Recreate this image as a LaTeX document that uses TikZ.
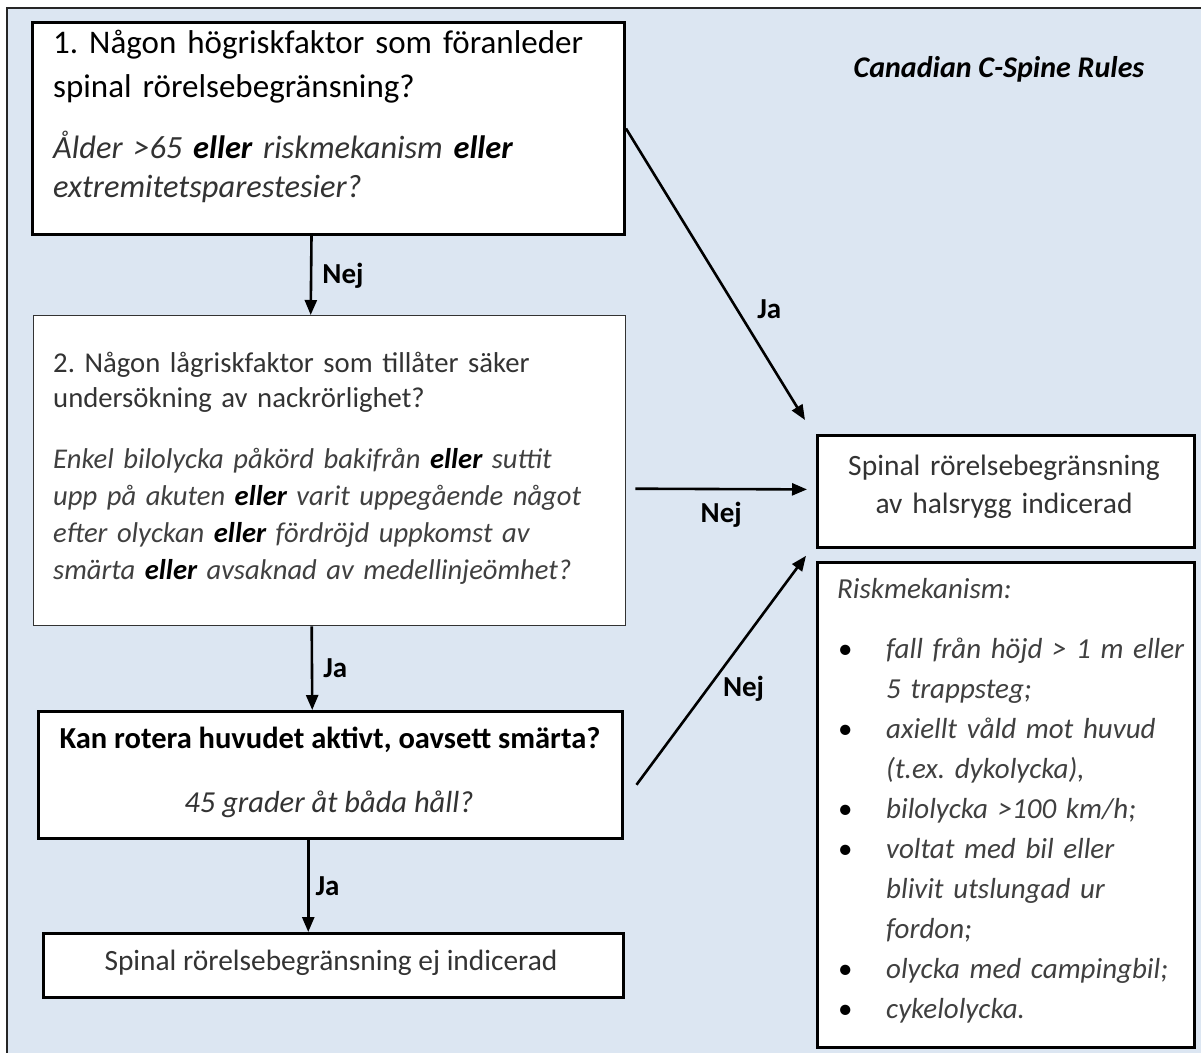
\documentclass[tikz,border=0pt]{standalone}
\usepackage{fontspec}
\setmainfont{Carlito}
\usetikzlibrary{arrows.meta}
\definecolor{bgblue}{HTML}{DCE6F2}
\definecolor{txtgray}{HTML}{333333}
\definecolor{softgray}{HTML}{404040}
\frenchspacing
\newcommand{\bul}{\makebox[48pt][l]{\upshape\color{black}•}}
\newcommand{\ind}{\hspace*{48pt}}
\begin{document}
\begin{tikzpicture}[x=1pt,y=-1pt,
  box/.style={draw=black, line width=2.5pt, fill=white, inner sep=0pt, anchor=north west},
  txt/.style={inner sep=0pt, anchor=base west, align=left},
  ctxt/.style={inner sep=0pt, anchor=base, align=center},
  arr/.style={line width=2.6pt, -{Triangle[length=15pt,width=12pt]}},
  lbl/.style={inner sep=0pt, font=\bfseries\fontsize{29}{32}\selectfont}]
\clip (0,0) rectangle (1201,1052);
\fill[white] (0,0) rectangle (1201,1052);
\draw[line width=2pt, draw=black!85, fill=bgblue] (7,8) rectangle (1215,1065);

% boxes
\node[box, line width=3pt, minimum width=592, minimum height=212] (q1) at (31,21) {};
\node[box, line width=1.4pt, draw=black!80, minimum width=592, minimum height=310] (q2) at (33,315) {};
\node[box, minimum width=584, minimum height=127] (q3) at (37,710) {};
\node[box, minimum width=580, minimum height=64] (q4) at (42,932) {};
\node[box, line width=2.8pt, minimum width=377, minimum height=112] (rA) at (816,434) {};
\node[box, line width=2.8pt, minimum width=377, minimum height=485] (rB) at (816,561) {};

% texts
\node[txt, text width=570, font=\fontsize{33}{44}\selectfont] (q1a) at (53,53)
  {1. Någon högriskfaktor som föranleder\\spinal rörelsebegränsning?};
\node[txt, text width=570, text=txtgray, font=\itshape\fontsize{32.4}{39}\selectfont] (q1b) at (53,158)
  {Ålder >65 {\bfseries\color{black}eller} riskmekanism {\bfseries\color{black}eller}\\extremitetsparestesier?};
\node[txt, text width=575, text=txtgray, font=\fontsize{28.7}{35}\selectfont] (q2a) at (53,372)
  {2. Någon lågriskfaktor som tillåter säker\\undersökning av nackrörlighet?};
\node[txt, text width=575, text=softgray, font=\itshape\fontsize{28.6}{37}\selectfont] (q2b) at (53,468)
  {Enkel bilolycka påkörd bakifrån {\bfseries\color{black}eller} suttit\\upp på akuten {\bfseries\color{black}eller} varit uppegående något\\efter olyckan {\bfseries\color{black}eller} fördröjd uppkomst av\\smärta {\bfseries\color{black}eller} avsaknad av medellinjeömhet?};
\node[ctxt, font=\bfseries\fontsize{30.5}{34}\selectfont] (q3a) at (330,748)
  {Kan rotera huvudet aktivt, oavsett smärta?};
\node[ctxt, text=txtgray, font=\itshape\fontsize{30.5}{34}\selectfont] (q3b) at (329,812)
  {45 grader åt båda håll?};
\node[ctxt, text=txtgray, font=\fontsize{29.4}{34}\selectfont] (q4a) at (331,970)
  {Spinal rörelsebegränsning ej indicerad};
\node[ctxt, text width=377, text=txtgray, font=\fontsize{29.5}{38}\selectfont] (rAa) at (1004,475)
  {Spinal rörelsebegränsning\\av halsrygg indicerad};
\node[txt, text=softgray, font=\itshape\fontsize{29}{40}\selectfont] (rBa) at (837,598)
  {Riskmekanism:};
\node[txt, text width=350, text=softgray, font=\itshape\fontsize{29}{40}\selectfont] (rBb) at (838,658)
  {\bul fall från höjd > 1 m eller\\
   \ind 5 trappsteg;\\
   \bul axiellt våld mot huvud\\
   \ind (t.ex. dykolycka),\\
   \bul bilolycka >100 km/h;\\
   \bul voltat med bil eller\\
   \ind blivit utslungad ur\\
   \ind fordon;\\
   \bul olycka med campingbil;\\
   \bul cykelolycka.};
\node[ctxt, font=\bfseries\itshape\fontsize{30}{32}\selectfont] (title) at (999,77)
  {Canadian C-Spine Rules};

% connectors
\draw[arr] ([xshift=-17pt]q1.south) -- ([xshift=-19pt]q2.north)
  node[lbl, midway, right=10pt] {Nej};
\draw[arr] ([xshift=-18pt]q2.south) -- ([xshift=-18pt]q3.north)
  node[lbl, midway, right=10pt] {Ja};
\draw[arr] ([xshift=-22pt]q3.south) -- ([xshift=-25pt]q4.north)
  node[lbl, midway, right=6pt] {Ja};
\draw[arr] (q1.east) -- ([shift={(-11,-14)}]rA.north west)
  node[lbl, pos=0.62, right=19pt] {Ja};
\draw[arr] ([shift={(9,18)}]q2.east) -- ([shift={(-9,-2)}]rA.west)
  node[lbl, midway, below=12pt] {Nej};
\draw[arr] ([shift={(13,10)}]q3.east) -- ([shift={(-10,7)}]rA.south west)
  node[lbl, pos=0.42, right=14pt] {Nej};
\end{tikzpicture}
\end{document}
